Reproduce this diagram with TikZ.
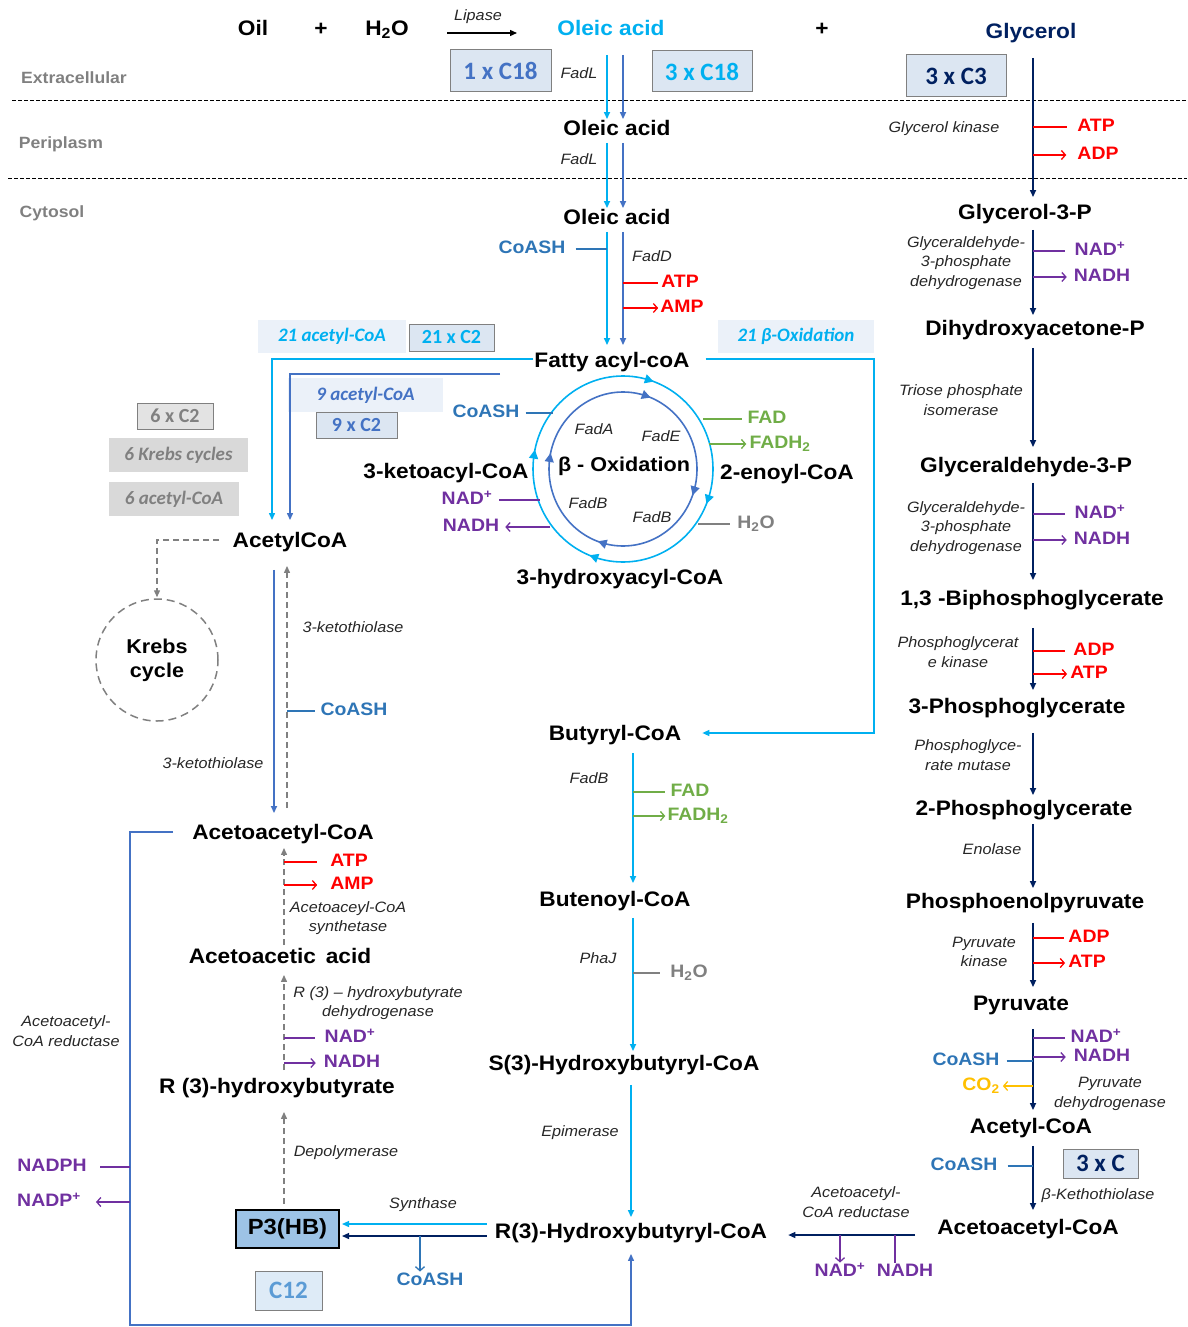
\documentclass[tikz,border=0pt]{standalone}
\usepackage{fontspec}
\setmainfont{Liberation Sans}[FakeStretch=1.08]
\newfontfamily\calfont{Carlito}
\usetikzlibrary{arrows.meta,calc}
\definecolor{cyanc}{HTML}{00B0F0}
\definecolor{bluec}{HTML}{4472C4}
\definecolor{coac}{HTML}{2E75B6}
\definecolor{navyc}{HTML}{002060}
\definecolor{redc}{HTML}{FF0000}
\definecolor{purc}{HTML}{7030A0}
\definecolor{grnc}{HTML}{70AD47}
\definecolor{grayc}{HTML}{808080}
\definecolor{orgc}{HTML}{FFC000}
\definecolor{boxf}{HTML}{DCE6F2}
\definecolor{bgf}{HTML}{EBF1F9}
\definecolor{grayf}{HTML}{D9D9D9}
\definecolor{grayb}{HTML}{E3E3E3}
\definecolor{p3f}{HTML}{9DC3E6}
\definecolor{enzc}{HTML}{262626}
\definecolor{c12c}{HTML}{5B9BD5}
\definecolor{c12f}{HTML}{DEEBF7}
\newcommand\ringtipmark[4]{\draw[#1, line width=1.6pt, -{Triangle[length=9pt,width=9pt]}] ({623+#2*cos(#4-5)},{469+#3*sin(#4-5)}) -- ({623+#2*cos(#4)},{469+#3*sin(#4)});}
\begin{document}
\begin{tikzpicture}[x=1pt,y=-1pt,
 lab/.style={font=\fontsize{21}{24}\selectfont\bfseries, text height=15pt, text depth=4.5pt, inner sep=1pt},
 cof/.style={font=\fontsize{18}{20}\selectfont\bfseries, text height=13pt, text depth=3.5pt, inner sep=1pt},
 enz/.style={font=\fontsize{15}{19.5}\selectfont\itshape, text=enzc, align=center, inner sep=1pt},
 reg/.style={font=\fontsize{16.3}{18}\selectfont\bfseries, text=grayc},
 cb/.style={draw=grayc, line width=1pt, fill=boxf, inner sep=0pt, font=\calfont\fontsize{25}{28}\selectfont\bfseries},
 cbs/.style={cb, font=\calfont\fontsize{20}{22}\selectfont\bfseries},
 bgbox/.style={fill=bgf, inner sep=0pt, font=\calfont\fontsize{19}{22}\selectfont\bfseries\itshape},
 tipA/.style={-{Triangle[length=7pt,width=6pt]}},
 ln/.style={line width=1.3pt},
 brA/.style={ln, -{Straight Barb[length=4pt,width=9pt]}},
 mainA/.style={line width=1.6pt, tipA},
 dashA/.style={line width=1.3pt, grayc, dash pattern=on 6pt off 4pt, tipA}
]
\useasboundingbox (0,0) rectangle (1187,1327);

% columns
\coordinate (cC) at (607,0);
\coordinate (cB) at (623,0);
\coordinate (cG) at (1033,0);
\coordinate (cA1) at (272,0);
\coordinate (cA2) at (290,0);
\coordinate (cL1) at (274,0);
\coordinate (cL2) at (287,0);
\coordinate (cL3) at (284,0);
\coordinate (cM) at (633,0);
\coordinate (cM2) at (631,0);

% membranes
\draw[line width=0.9pt, dash pattern=on 4pt off 2pt] (12,100) -- (1187,100);
\draw[line width=0.9pt, dash pattern=on 4pt off 2pt] (8,178) -- (1187,178);
\node[reg] (rExt) at (74,78) {Extracellular};
\node[reg] (rPer) at (61,144) {Periplasm};
\node[reg] (rCyt) at (52,213) {Cytosol};

% top row
\node[lab] (oil) at (253,30) {Oil};
\node[lab] (plus1) at (321,30) {+};
\node[lab] (h2oT) at (387,30) {H\textsubscript{2}O};
\node[enz] (lipase) at (478,17) {Lipase};
\coordinate (lipS) at (447,33);
\coordinate (lipE) at (517,33);
\draw[ln, black, tipA] (lipS) -- (lipE);
\node[lab, text=cyanc] (oleicT) at (611,30) {Oleic acid};
\node[lab] (plus2) at (822,30) {+};
\node[lab, text=navyc] (glyc) at (1031,33) {Glycerol};

% boxes
\node[cb, text=bluec, minimum width=101pt, minimum height=42pt] (b1) at (500.5,71) {1 x C18};
\node[cb, text=cyanc, minimum width=100pt, minimum height=41pt] (b2) at (702,71.5) {3 x C18};
\node[cb, text=navyc, minimum width=100pt, minimum height=42pt] (b3) at (956,76) {3 x C3};
\node[bgbox, text=cyanc, minimum width=148pt, minimum height=33pt] (b21bg) at (332,336.5) {21 acetyl-CoA};
\node[cbs, text=cyanc, minimum width=85pt, minimum height=27pt] (b21) at (451.5,337.5) {21 x C2};
\node[bgbox, text=bluec, minimum width=155pt, minimum height=34pt] (b9bg) at (365.5,395) {9 acetyl-CoA};
\node[cbs, text=bluec, minimum width=81pt, minimum height=26pt] (b9) at (356.5,425) {9 x C2};
\node[bgbox, text=cyanc, minimum width=156pt, minimum height=33pt] (bOx) at (796,336.5) {21 β-Oxidation};
\node[cbs, text=grayc, fill=grayb, minimum width=76pt, minimum height=26pt] (b6) at (175,416) {6 x C2};
\node[bgbox, text=grayc, fill=grayf, minimum width=139pt, minimum height=34pt] (bK) at (178.5,455) {6 Krebs cycles};
\node[bgbox, text=grayc, fill=grayf, minimum width=130pt, minimum height=34pt] (bA) at (174,499) {6 acetyl-CoA};
\node[cb, text=navyc, minimum width=75pt, minimum height=29pt] (bC3) at (1100.5,1163.5) {3 x C};
\node[cb, text=c12c, fill=c12f, minimum width=67pt, minimum height=39pt] (c12) at (288.5,1290.5) {C12};
\node[draw=black, line width=2pt, fill=p3f, minimum width=103pt, minimum height=38pt, inner sep=0pt, font=\fontsize{22}{24}\selectfont\bfseries] (p3) at (287.5,1229) {P3(HB)};

% fatty acid column
\node[enz] (fadL1) at (579,73) {FadL};
\node[lab] (oleicP) at (617,130) {Oleic acid};
\node[enz] (fadL2) at (579,159) {FadL};
\node[lab] (oleicC) at (617,219) {Oleic acid};
\node[cof, text=coac] (coash1) at (532,249) {CoASH};
\node[enz] (fadD) at (652,256) {FadD};
\node[cof, text=redc] (atp1) at (680,283) {ATP};
\node[cof, text=redc] (amp1) at (682,308) {AMP};
\node[lab] (fatty) at (612,362) {Fatty acyl-coA};

\draw[mainA, cyanc, shorten <=14pt] (oleicT.south -| cC) -- (oleicP.north -| cC);
\draw[mainA, bluec, shorten <=14pt] (oleicT.south -| cB) -- (oleicP.north -| cB);
\draw[mainA, cyanc, shorten <=2pt] (oleicP.south -| cC) -- (oleicC.north -| cC);
\draw[mainA, bluec, shorten <=2pt] (oleicP.south -| cB) -- (oleicC.north -| cB);
\draw[mainA, cyanc, shorten <=2pt, shorten >=6pt] (oleicC.south -| cC) -- (fatty.north -| cC);
\draw[mainA, bluec, shorten <=2pt, shorten >=6pt] (oleicC.south -| cB) -- (fatty.north -| cB);
\draw[ln, coac, shorten <=9pt] (coash1.east) -- (coash1.east -| cC);
\draw[ln, redc, shorten >=2pt] (cB |- atp1.west) -- (atp1.west);
\draw[brA, redc, shorten >=1pt] (cB |- amp1.west) -- (amp1.west);

% beta oxidation cycle
\coordinate (bcen) at (623,469);
\draw[cyanc, line width=1.6pt] (bcen) ellipse [x radius=90pt, y radius=93pt];
\draw[bluec, line width=1.6pt] (bcen) ellipse [x radius=74pt, y radius=77pt];
\ringtipmark{cyanc}{90}{93}{22}
\ringtipmark{cyanc}{90}{93}{112}
\ringtipmark{cyanc}{90}{93}{192}
\ringtipmark{cyanc}{90}{93}{290}
\ringtipmark{bluec}{74}{77}{20}
\ringtipmark{bluec}{74}{77}{110}
\ringtipmark{bluec}{74}{77}{192}
\ringtipmark{bluec}{74}{77}{292}
\node[font=\fontsize{20}{22}\selectfont\bfseries, inner sep=1pt] (betaox) at (624,466) {β - Oxidation};
\node[enz] (fadA) at (594,429) {FadA};
\node[enz] (fadE) at (661,436) {FadE};
\node[enz] (fadB1) at (588,503) {FadB};
\node[enz] (fadB2) at (652,517) {FadB};
\node[lab] (ketoacyl) at (446,473) {3-ketoacyl-CoA};
\node[lab] (enoyl) at (787,474) {2-enoyl-CoA};
\node[lab] (hydroxyacyl) at (620,579) {3-hydroxyacyl-CoA};
\node[cof, text=coac] (coash2) at (486,413) {CoASH};
\node[cof, text=grnc] (fad1) at (767,419) {FAD};
\node[cof, text=grnc] (fadh1) at (780,444) {FADH\textsubscript{2}};
\node[cof, text=purc] (nad1) at (467,500) {NAD\textsuperscript{+}};
\node[cof, text=purc] (nadh1) at (471,527) {NADH};
\node[cof, text=grayc] (h2o1) at (756,524) {H\textsubscript{2}O};
\coordinate (eCo) at (553,412);
\coordinate (eFad) at (703,420);
\coordinate (eFadh) at (709,443);
\coordinate (eNad) at (540,499);
\coordinate (eNadh) at (550,526);
\coordinate (eH2o) at (698,522);
\draw[ln, coac, shorten <=5pt] (coash2.east) -- (eCo |- coash2.east);
\draw[ln, grnc, shorten >=4pt] (eFad |- fad1.west) -- (fad1.west);
\draw[brA, grnc, shorten >=2pt] (eFadh |- fadh1.west) -- (fadh1.west);
\draw[ln, purc, shorten <=6pt] (nad1.east) -- (eNad |- nad1.east);
\draw[brA, purc, shorten >=5pt] (eNadh |- nadh1.east) -- (nadh1.east);
\draw[ln, grayc, shorten >=6pt] (eH2o |- h2o1.west) -- (h2o1.west);

% acetyl-CoA routes
\node[lab] (acetyl) at (290,542) {AcetylCoA};
\coordinate (bS) at (500,374);
\coordinate (rc) at (874,600);
\node[lab] (butyryl) at (615,735) {Butyryl-CoA};
\draw[ln, cyanc, tipA, shorten >=11pt] (fatty.west |- 0,359) -| (acetyl.north -| cA1);
\draw[ln, bluec, tipA, shorten >=11pt] (bS) -| (acetyl.north -| cA2);
\draw[ln, cyanc, tipA, shorten <=15pt, shorten >=20pt] (fatty.east |- 0,359) -| (rc) |- (butyryl.east |- 0,733);

% Krebs
\node[circle, draw=grayc, line width=1.5pt, dash pattern=on 8pt off 5pt, minimum size=122pt, align=center, inner sep=0pt, font=\fontsize{20}{24}\selectfont\bfseries] (krebs) at (157,660) {Krebs\\cycle};
\draw[line width=1.3pt, grayc, dash pattern=on 6pt off 4pt, tipA, shorten <=12pt, shorten >=1pt] (acetyl.west |- 0,540) -| (krebs.north);

% left ketone column
\node[lab] (aacL) at (283,834) {Acetoacetyl-CoA};
\node[enz] (kt1) at (353,627) {3-ketothiolase};
\node[enz] (kt2) at (213,763) {3-ketothiolase};
\node[cof, text=coac] (coash3) at (354,711) {CoASH};
\draw[mainA, bluec, shorten <=17pt, shorten >=10pt] (acetyl.south -| cL1) -- (aacL.north -| cL1);
\draw[dashA, shorten <=15pt, shorten >=13pt] (aacL.north -| cL2) -- (acetyl.south -| cL2);
\draw[ln, coac, shorten >=4pt] (cL2 |- coash3.west) -- (coash3.west);

\node[lab] (aacid) at (280,958) {Acetoacetic\, acid};
\node[cof, text=redc] (atpL) at (349,862) {ATP};
\node[cof, text=redc] (ampL) at (352,885) {AMP};
\node[enz] (aacs) at (348,918) {Acetoaceyl-CoA\\synthetase};
\draw[dashA, shorten <=2pt, shorten >=3pt] (aacid.north -| cL3) -- (aacL.south -| cL3);
\draw[ln, redc, shorten >=12pt] (cL3 |- atpL.west) -- (atpL.west);
\draw[brA, redc, shorten >=12pt] (cL3 |- ampL.west) -- (ampL.west);

\node[lab] (r3hb) at (277,1088) {R (3)-hydroxybutyrate};
\node[enz] (hbd) at (378,1003) {R (3) – hydroxybutyrate\\dehydrogenase};
\node[cof, text=purc] (nadL) at (350,1038) {NAD\textsuperscript{+}};
\node[cof, text=purc] (nadhL) at (352,1063) {NADH};
\draw[dashA, shorten <=7pt, shorten >=6pt] (r3hb.north -| cL3) -- (aacid.south -| cL3);
\draw[ln, purc, shorten >=9pt] (cL3 |- nadL.west) -- (nadL.west);
\draw[brA, purc, shorten >=7pt] (cL3 |- nadhL.west) -- (nadhL.west);

\node[enz] (depol) at (346,1153) {Depolymerase};
\draw[dashA, shorten <=5pt, shorten >=13pt] (p3.north -| cL3) -- (r3hb.south -| cL3);

% middle column
\node[enz] (fadB3) at (589,778) {FadB};
\node[cof, text=grnc] (fad2) at (690,792) {FAD};
\node[cof, text=grnc] (fadh2) at (698,816) {FADH\textsubscript{2}};
\node[lab] (butenoyl) at (615,901) {Butenoyl-CoA};
\node[enz] (phaJ) at (598,958) {PhaJ};
\node[cof, text=grayc] (h2o2) at (689,973) {H\textsubscript{2}O};
\node[lab] (s3) at (624,1065) {S(3)-Hydroxybutyryl-CoA};
\node[enz] (epim) at (580,1133) {Epimerase};
\node[lab] (r3) at (631,1233) {R(3)-Hydroxybutyryl-CoA};
\draw[mainA, cyanc, shorten <=7pt, shorten >=7pt] (butyryl.south -| cM) -- (butenoyl.north -| cM);
\draw[ln, grnc, shorten >=4pt] (cM |- fad2.west) -- (fad2.west);
\draw[brA, grnc, shorten >=1pt] (cM |- fadh2.west) -- (fadh2.west);
\draw[mainA, cyanc, shorten <=6pt, shorten >=3pt] (butenoyl.south -| cM) -- (s3.north -| cM);
\draw[ln, grayc, shorten >=9pt] (cM |- h2o2.west) -- (h2o2.west);
\draw[mainA, cyanc, shorten <=9pt, shorten >=5pt] (s3.south -| cM2) -- (r3.north -| cM2);

% P3HB synthesis
\node[enz] (synth) at (423,1205) {Synthase};
\node[cof, text=coac] (coash4) at (430,1281) {CoASH};
\coordinate (synB) at (420,1236);
\coordinate (cyY) at (0,1224);
\draw[ln, cyanc, tipA, shorten <=7pt, shorten >=2pt] (r3.west |- cyY) -- (p3.east |- cyY);
\draw[ln, navyc, tipA, shorten <=7pt, shorten >=2pt] (r3.west |- synB) -- (p3.east |- synB);
\draw[ln, coac, -{Straight Barb[length=4pt,width=9pt]}] (synB) -- (coash4.north -| synB);

% loop via acetoacetyl-CoA reductase
\coordinate (lc) at (130,1000);
\coordinate (bc) at (400,1325);
\node[enz] (aarL) at (66,1031) {Acetoacetyl-\\CoA reductase};
\node[cof, text=purc] (nadph) at (52,1167) {NADPH};
\node[cof, text=purc] (nadp) at (49,1202) {NADP\textsuperscript{+}};
\draw[ln, bluec, tipA, shorten <=18pt, shorten >=10pt] (aacL.west |- 0,832) -| (lc) |- (bc) -| (r3.south);
\draw[ln, purc, shorten >=12pt] (lc |- nadph.east) -- (nadph.east);
\draw[brA, purc, shorten >=14pt] (lc |- nadp.east) -- (nadp.east);

% glycerol column
\node[enz] (glyK) at (944,129) {Glycerol kinase};
\node[cof, text=redc] (atpG) at (1096,127) {ATP};
\node[cof, text=redc] (adpG) at (1098,155) {ADP};
\node[lab] (g3p) at (1025,214) {Glycerol-3-P};
\node[enz] (gapdh1) at (966,263) {Glyceraldehyde-\\3-phosphate\\dehydrogenase};
\node[cof, text=purc] (nadG1) at (1100,251) {NAD\textsuperscript{+}};
\node[cof, text=purc] (nadhG1) at (1102,277) {NADH};
\node[lab] (dhap) at (1035,330) {Dihydroxyacetone-P};
\node[enz] (tpi) at (961,400) {Triose phosphate\\isomerase};
\node[lab] (gap) at (1026,467) {Glyceraldehyde-3-P};
\node[enz] (gapdh2) at (966,528) {Glyceraldehyde-\\3-phosphate\\dehydrogenase};
\node[cof, text=purc] (nadG2) at (1100,514) {NAD\textsuperscript{+}};
\node[cof, text=purc] (nadhG2) at (1102,540) {NADH};
\node[lab] (bpg) at (1032,600) {1,3 -Biphosphoglycerate};
\node[enz] (pgk) at (958,652) {Phosphoglycerat\\e kinase};
\node[cof, text=redc] (adpP) at (1094,651) {ADP};
\node[cof, text=redc] (atpP) at (1089,674) {ATP};
\node[lab] (pg3) at (1017,708) {3-Phosphoglycerate};
\node[enz] (pgm) at (968,755) {Phosphoglyce-\\rate mutase};
\node[lab] (pg2) at (1024,810) {2-Phosphoglycerate};
\node[enz] (eno) at (992,849) {Enolase};
\node[lab] (pep) at (1025,903) {Phosphoenolpyruvate};
\node[enz] (pk) at (984,952) {Pyruvate\\kinase};
\node[cof, text=redc] (adpK) at (1089,938) {ADP};
\node[cof, text=redc] (atpK) at (1087,963) {ATP};
\node[lab] (pyr) at (1021,1005) {Pyruvate};
\node[cof, text=purc] (nadPd) at (1096,1038) {NAD\textsuperscript{+}};
\node[cof, text=purc] (nadhPd) at (1102,1057) {NADH};
\node[cof, text=coac] (coaPd) at (966,1061) {CoASH};
\node[cof, text=orgc] (co2) at (981,1086) {CO\textsubscript{2}};
\node[enz] (pdh) at (1110,1094) {Pyruvate\\dehydrogenase};
\node[lab] (acc) at (1031,1128) {Acetyl-CoA};
\node[cof, text=coac] (coaBk) at (964,1166) {CoASH};
\node[enz] (bkt) at (1098,1196) {β-Kethothiolase};
\node[lab] (aacR) at (1028,1229) {Acetoacetyl-CoA};
\node[enz] (aarR) at (856,1202) {Acetoacetyl-\\CoA reductase};
\node[cof, text=purc] (nadR) at (840,1272) {NAD\textsuperscript{+}};
\node[cof, text=purc] (nadhR) at (905,1272) {NADH};

\draw[mainA, navyc, shorten <=14pt, shorten >=6pt] (glyc.south -| cG) -- (g3p.north -| cG);
\draw[mainA, navyc, shorten <=5pt, shorten >=4pt] (g3p.south -| cG) -- (dhap.north -| cG);
\draw[mainA, navyc, shorten <=7pt, shorten >=9pt] (dhap.south -| cG) -- (gap.north -| cG);
\draw[mainA, navyc, shorten <=5pt, shorten >=9pt] (gap.south -| cG) -- (bpg.north -| cG);
\draw[mainA, navyc, shorten <=17pt, shorten >=7pt] (bpg.south -| cG) -- (pg3.north -| cG);
\draw[mainA, navyc, shorten <=14pt, shorten >=4pt] (pg3.south -| cG) -- (pg2.north -| cG);
\draw[mainA, navyc, shorten <=3pt, shorten >=4pt] (pg2.south -| cG) -- (pep.north -| cG);
\draw[mainA, navyc, shorten <=9pt, shorten >=7pt] (pep.south -| cG) -- (pyr.north -| cG);
\draw[mainA, navyc, shorten <=13pt, shorten >=7pt] (pyr.south -| cG) -- (acc.north -| cG);
\draw[mainA, navyc, shorten <=7pt, shorten >=8pt] (acc.south -| cG) -- (aacR.north -| cG);

\draw[ln, redc, shorten >=9pt] (cG |- atpG.west) -- (atpG.west);
\draw[brA, redc, shorten >=10pt] (cG |- adpG.west) -- (adpG.west);
\draw[ln, purc, shorten >=9pt] (cG |- nadG1.west) -- (nadG1.west);
\draw[brA, purc, shorten >=6pt] (cG |- nadhG1.west) -- (nadhG1.west);
\draw[ln, purc, shorten >=9pt] (cG |- nadG2.west) -- (nadG2.west);
\draw[brA, purc, shorten >=6pt] (cG |- nadhG2.west) -- (nadhG2.west);
\draw[ln, redc, shorten >=7pt] (cG |- adpP.west) -- (adpP.west);
\draw[brA, redc, shorten >=2pt] (cG |- atpP.west) -- (atpP.west);
\draw[ln, redc, shorten >=3pt] (cG |- adpK.west) -- (adpK.west);
\draw[brA, redc, shorten >=2pt] (cG |- atpK.west) -- (atpK.west);
\draw[ln, purc, shorten >=5pt] (cG |- nadPd.west) -- (nadPd.west);
\draw[brA, purc, shorten >=7pt] (cG |- nadhPd.west) -- (nadhPd.west);
\draw[ln, coac, shorten <=6pt] (coaPd.east) -- (coaPd.east -| cG);
\draw[brA, orgc, shorten >=2pt] (cG |- co2.east) -- (co2.east);
\draw[ln, coac, shorten <=9pt] (coaBk.east) -- (coaBk.east -| cG);

% acetoacetyl-CoA reductase (right)
\coordinate (rrY) at (0,1235);
\coordinate (nhx) at ([xshift=-10pt]nadhR.north);
\draw[ln, navyc, tipA, shorten <=21pt, shorten >=20pt] (aacR.west |- rrY) -- (r3.east |- rrY);
\draw[brA, purc] (nadR.north |- rrY) -- (nadR.north);
\draw[ln, purc] (nhx) -- (nhx |- rrY);
\end{tikzpicture}
\end{document}
